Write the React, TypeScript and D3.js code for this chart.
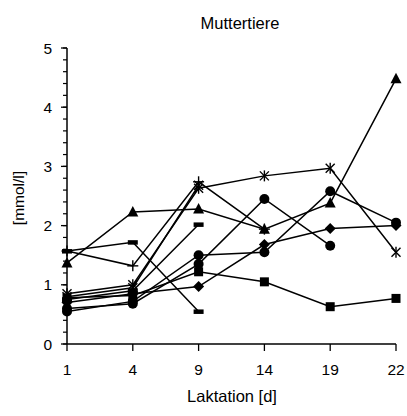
import React from "react";
import * as d3 from "d3";

const days = ["1", "4", "9", "14", "19", "22"];
const yTicks = [0, 1, 2, 3, 4, 5];

const triangleSeries = [1.37, 2.23, 2.28, 1.94, 2.38, 4.48];
const starSeries = [0.85, 1.0, 2.63, 2.84, 2.97, 1.55];
const plusSeries = [1.57, 1.32, 2.74, 1.94, null, null];
const xSeries = [0.8, 0.95, 2.68, null, null, null];
const dashASeries = [1.57, 1.72, 0.55, null, null, null];
const dashBSeries = [0.75, 0.9, 2.02, null, null, null];
const circleASeries = [0.6, 0.68, 1.35, 2.45, 1.66, null];
const circleBSeries = [0.55, 0.72, 1.5, 1.55, 2.58, 2.05];
const diamondSeries = [0.7, 0.85, 0.97, 1.68, 1.95, 2.0];
const squareSeries = [0.78, 0.82, 1.22, 1.05, 0.63, 0.77];

type S = { values: (number | null)[]; marker: string };
const series: S[] = [
  { values: triangleSeries, marker: "triangle" },
  { values: starSeries, marker: "star" },
  { values: plusSeries, marker: "plus" },
  { values: xSeries, marker: "x" },
  { values: dashASeries, marker: "dash" },
  { values: dashBSeries, marker: "dash" },
  { values: circleASeries, marker: "circle" },
  { values: circleBSeries, marker: "circle" },
  { values: diamondSeries, marker: "diamond" },
  { values: squareSeries, marker: "square" },
];

const font = "'Liberation Sans', Arial, Helvetica, sans-serif";

function Marker({ kind, x, y }: { kind: string; x: number; y: number }) {
  const k = "#000";
  switch (kind) {
    case "triangle":
      return <path d={`M${x},${y - 6} L${x + 5.5},${y + 4.5} L${x - 5.5},${y + 4.5} Z`} fill={k} />;
    case "circle":
      return <circle cx={x} cy={y} r={5} fill={k} />;
    case "square":
      return <rect x={x - 4.5} y={y - 4.5} width={9} height={9} fill={k} />;
    case "diamond":
      return <path d={`M${x},${y - 5.5} L${x + 5.5},${y} L${x},${y + 5.5} L${x - 5.5},${y} Z`} fill={k} />;
    case "dash":
      return <rect x={x - 5} y={y - 2} width={10} height={4.5} fill={k} />;
    case "plus":
      return (
        <g stroke={k} strokeWidth={1.4}>
          <line x1={x - 5.5} y1={y} x2={x + 5.5} y2={y} />
          <line x1={x} y1={y - 5.5} x2={x} y2={y + 5.5} />
        </g>
      );
    case "x":
      return (
        <g stroke={k} strokeWidth={1.4}>
          <line x1={x - 4.5} y1={y - 4.5} x2={x + 4.5} y2={y + 4.5} />
          <line x1={x - 4.5} y1={y + 4.5} x2={x + 4.5} y2={y - 4.5} />
        </g>
      );
    case "star":
      return (
        <g stroke={k} strokeWidth={1.4}>
          <line x1={x - 4.5} y1={y - 4.5} x2={x + 4.5} y2={y + 4.5} />
          <line x1={x - 4.5} y1={y + 4.5} x2={x + 4.5} y2={y - 4.5} />
          <line x1={x} y1={y - 5.5} x2={x} y2={y + 5.5} />
        </g>
      );
    default:
      return null;
  }
}

export default function App() {
  const W = 407, H = 416;
  const x = d3.scalePoint<string>().domain(days).range([67, 396]);
  const y = d3.scaleLinear().domain([0, 5]).range([344, 48]);
  const minor = d3.range(0, 5.001, 0.2);

  const line = d3
    .line<number | null>()
    .defined((d) => d != null)
    .x((_, i) => x(days[i]) as number)
    .y((d) => y(d as number));

  return (
    <svg width={W} height={H} style={{ position: "absolute", left: 0, top: 0 }} fontFamily={font}>
      <rect width={W} height={H} fill="#fff" />
      <text x={240} y={29} fontSize={16.5} textAnchor="middle">Muttertiere</text>
      {/* y axis */}
      <line x1={67} y1={y(5)} x2={67} y2={y(0)} stroke="#000" strokeWidth={1.5} />
      {minor.map((v, i) => (
        <line key={"m" + i} x1={63} x2={67} y1={y(v)} y2={y(v)} stroke="#000" strokeWidth={1.2} />
      ))}
      {yTicks.map((v) => (
        <g key={"y" + v}>
          <line x1={61} x2={67} y1={y(v)} y2={y(v)} stroke="#000" strokeWidth={1.3} />
          <text x={52} y={y(v) + 5.5} fontSize={15.5} textAnchor="end">{v}</text>
        </g>
      ))}
      <text transform={`translate(24,${y(2.5) + 2}) rotate(-90)`} fontSize={15.5} textAnchor="middle">[mmol/l]</text>
      {/* x axis */}
      <line x1={67} y1={y(0)} x2={396} y2={y(0)} stroke="#000" strokeWidth={1.5} />
      {days.map((d) => (
        <g key={"x" + d}>
          <line x1={x(d)} x2={x(d)} y1={y(0)} y2={y(0) + 7} stroke="#000" strokeWidth={1.3} />
          <text x={x(d)} y={375} fontSize={15.5} textAnchor="middle">{d}</text>
        </g>
      ))}
      <text x={232} y={402} fontSize={16.5} textAnchor="middle">Laktation [d]</text>
      {/* series */}
      {series.map((s, i) => (
        <path key={"l" + i} d={line(s.values) || ""} fill="none" stroke="#000" strokeWidth={1.5} />
      ))}
      {series.map((s, i) =>
        s.values.map((v, j) =>
          v == null ? null : <Marker key={`k${i}-${j}`} kind={s.marker} x={x(days[j]) as number} y={y(v)} />
        )
      )}
    </svg>
  );
}
